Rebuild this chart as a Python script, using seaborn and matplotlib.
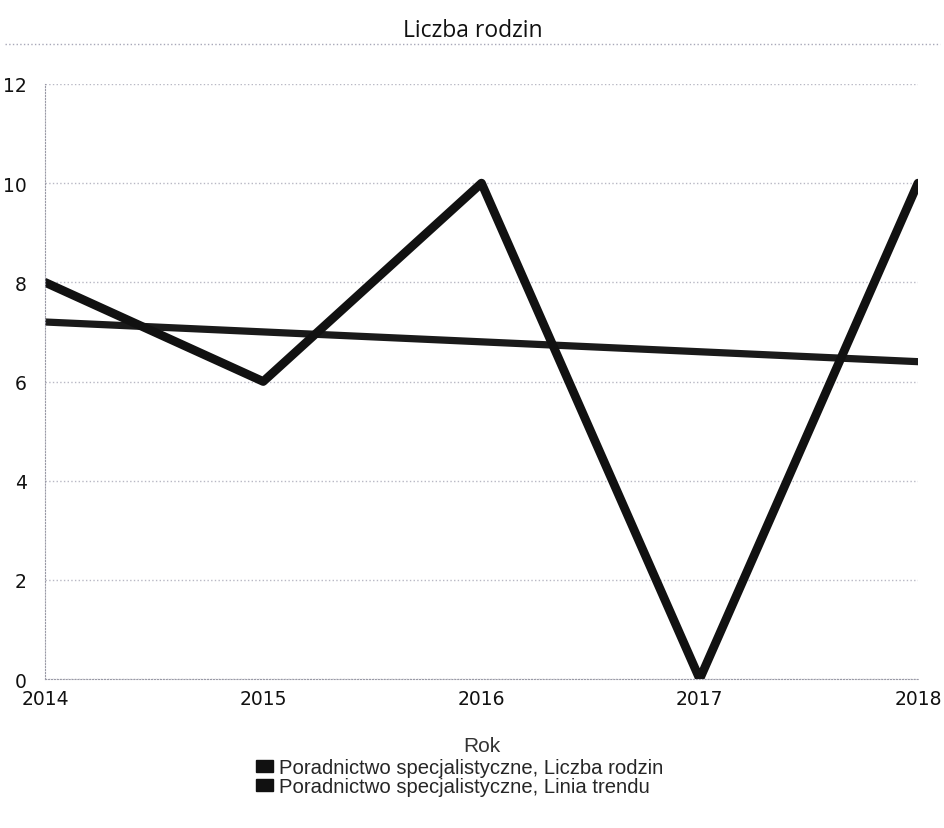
"""Liczba rodzin - poradnictwo specjalistyczne, with trend line."""
import matplotlib
matplotlib.use("Agg")
import matplotlib.pyplot as plt
import pandas as pd
import seaborn as sns
from matplotlib.lines import Line2D
from matplotlib.patches import Rectangle

years = [2014, 2015, 2016, 2017, 2018]
families = [8, 6, 10, 0, 10]
trend = [7.2, 7.0, 6.8, 6.6, 6.4]
y_ticks = [0, 2, 4, 6, 8, 10, 12]
series_labels = [
    "Poradnictwo specjalistyczne, Liczba rodzin",
    "Poradnictwo specjalistyczne, Linia trendu",
]

df = pd.DataFrame({"Rok": years, "rodziny": families, "trend": trend})

sns.set_style("white")
plt.rcParams["font.family"] = ["DejaVu Sans"]

fig = plt.figure(figsize=(9.45, 8.29), dpi=100)
ax = fig.add_axes([0.0476, 0.1797, 0.9238, 0.7178])

sns.lineplot(data=df, x="Rok", y="trend", ax=ax, color="#1a1a1a", linewidth=5.2)
sns.lineplot(data=df, x="Rok", y="rodziny", ax=ax, color="#111111", linewidth=6.3)

ax.set_xlim(years[0], years[-1])
ax.set_ylim(0, 12)
ax.set_xticks(years)
ax.set_xticklabels([str(y) for y in years], fontsize=13.5, color="#111111")
ax.set_yticks(y_ticks)
ax.set_yticklabels([str(t) for t in y_ticks], fontsize=13.5, color="#111111")
ax.tick_params(axis="y", length=0, pad=13)
ax.tick_params(axis="x", length=0, pad=7)
ax.grid(axis="y", color="#b8b8c4", linestyle=":", linewidth=1.0)
for side in ["top", "right"]:
    ax.spines[side].set_visible(False)
ax.spines["left"].set_color("#9a9aa6")
ax.spines["left"].set_linestyle(":")
ax.spines["bottom"].set_color("#9a9aa6")
ax.spines["bottom"].set_linestyle(":")

ax.set_ylabel("")
ax.set_xlabel("Rok", fontsize=15, color="#333333", family="Liberation Sans", labelpad=20)

fig.text(0.5, 0.963, "Liczba rodzin", ha="center", va="center", fontsize=16.5,
         family="Open Sans", color="#111111")
fig.add_artist(Line2D([0.005, 0.995], [0.946, 0.946], transform=fig.transFigure,
                      color="#a8a8b8", linewidth=1.0, linestyle=":"))

handles = [Rectangle((0, 0), 1, 1, color="#111111") for _ in series_labels]
fig.legend(handles, series_labels, loc="upper left", bbox_to_anchor=(0.262, 0.094),
           frameon=False, prop={"family": "Liberation Sans", "size": 14.6},
           handlelength=0.85, handleheight=0.5, handletextpad=0.3, labelspacing=0.0,
           borderaxespad=0)

fig.savefig("out.png", dpi=100)
